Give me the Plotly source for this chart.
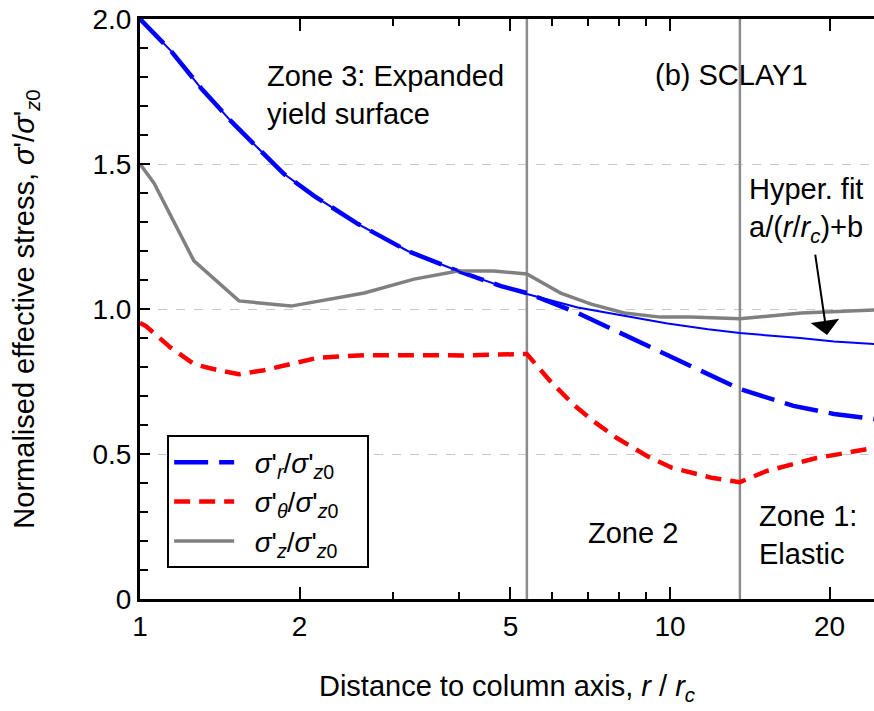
import math
import plotly.graph_objects as go

# ---------------- data ----------------
r_radial = [1.0, 1.144, 1.303, 1.485, 1.669, 1.868, 2.13, 2.58, 3.20, 3.98, 4.80, 5.37,
            6.70, 8.08, 9.74, 11.8, 13.55, 17.1, 20.4, 24.3]
sig_r = [2.0, 1.890, 1.762, 1.648, 1.555, 1.466, 1.390, 1.293, 1.200, 1.131, 1.079, 1.055,
         0.986, 0.917, 0.848, 0.776, 0.724, 0.666, 0.638, 0.621]

r_fit = [1.0, 1.144, 1.303, 1.485, 1.669, 1.868, 2.13, 2.58, 3.20, 3.98, 4.80, 5.37,
         6.70, 8.08, 9.9, 11.8, 13.55, 17.6, 20.4, 24.3]
sig_fit = [2.0, 1.890, 1.762, 1.648, 1.555, 1.466, 1.390, 1.293, 1.200, 1.131, 1.079, 1.052,
           1.005, 0.978, 0.950, 0.930, 0.917, 0.900, 0.888, 0.879]

r_theta = [1.0, 1.026, 1.144, 1.264, 1.403, 1.537, 1.714, 1.927, 2.17, 2.65, 3.29, 4.08, 5.37,
           5.94, 6.56, 7.16, 7.94, 9.05, 10.1, 12.06, 13.55, 15.2, 18.9, 24.3]
sig_theta = [0.952, 0.941, 0.866, 0.810, 0.789, 0.775, 0.789, 0.811, 0.832, 0.841, 0.840, 0.840, 0.845,
             0.752, 0.672, 0.614, 0.555, 0.493, 0.452, 0.417, 0.403, 0.441, 0.486, 0.521]

r_z = [1.0, 1.063, 1.264, 1.537, 1.927, 2.65, 3.29, 3.98, 4.65, 5.37, 6.22, 7.1, 8.2, 9.6,
       10.95, 13.55, 17.7, 24.3]
sig_z = [1.50, 1.434, 1.166, 1.028, 1.010, 1.055, 1.103, 1.131, 1.131, 1.121, 1.055, 1.017,
         0.986, 0.972, 0.972, 0.966, 0.986, 0.997]

zone_boundaries = [5.37, 13.55]

x_tickvals = [1, 2, 5, 10, 20]
x_minor_tickvals = [3, 4, 6, 7, 8, 9]
y_tickvals = [0, 0.5, 1.0, 1.5, 2.0]
y_ticktext = ["0", "0.5", "1.0", "1.5", "2.0"]

# ---------------- figure ----------------
FONT = "Liberation Sans, Arial, sans-serif"
FS = 28
FS_ANN = 29
PAD_L = "&nbsp;&nbsp;"
PAD_R = "&nbsp;&nbsp;&nbsp;"

fig = go.Figure()

for xb in zone_boundaries:
    fig.add_trace(go.Scatter(x=[xb, xb], y=[0, 2], mode="lines",
                             line=dict(color="#8c8c8c", width=2.5),
                             showlegend=False, hoverinfo="skip"))

fig.add_trace(go.Scatter(x=r_radial, y=sig_r, mode="lines",
                         name=PAD_L + "<i>σ</i>'<sub><i>r</i></sub>/<i>σ</i>'<sub><i>z</i>0</sub>" + PAD_R,
                         legendgroup="a",
                         line=dict(color="#0000ff", width=4.5, dash="34px,11px")))
fig.add_trace(go.Scatter(x=r_theta, y=sig_theta, mode="lines",
                         name=PAD_L + "<i>σ</i>'<sub><i>θ</i></sub>/<i>σ</i>'<sub><i>z</i>0</sub>" + PAD_R,
                         legendgroup="b",
                         line=dict(color="#ff0000", width=4.5, dash="16px,9px")))
fig.add_trace(go.Scatter(x=r_z, y=sig_z, mode="lines",
                         name=PAD_L + "<i>σ</i>'<sub><i>z</i></sub>/<i>σ</i>'<sub><i>z</i>0</sub>" + PAD_R,
                         legendgroup="c",
                         line=dict(color="#808080", width=3.5)))
fig.add_trace(go.Scatter(x=r_fit, y=sig_fit, mode="lines",
                         line=dict(color="#0000ff", width=2),
                         showlegend=False))

ann_font = dict(family=FONT, size=FS_ANN, color="black")
annotations = [
    dict(x=0.170, y=0.869, xref="paper", yref="paper", xanchor="left", yanchor="middle",
         align="left", text="Zone 3: Expanded<br>yield surface", showarrow=False, font=ann_font),
    dict(x=0.699, y=0.903, xref="paper", yref="paper", xanchor="left", yanchor="middle",
         text="(b) SCLAY1", showarrow=False, font=ann_font),
    dict(x=0.827, y=0.671, xref="paper", yref="paper", xanchor="left", yanchor="middle",
         align="left", text="Hyper. fit<br>a/(<i>r</i>/<i>r</i><sub><i>c</i></sub>)+b",
         showarrow=False, font=ann_font),
    dict(x=0.936, y=0.455, xref="paper", yref="paper", text="", showarrow=True,
         ax=-12, ay=-82, arrowhead=1, arrowsize=2.4, arrowwidth=2, arrowcolor="black"),
    dict(x=0.672, y=0.114, xref="paper", yref="paper", xanchor="center", yanchor="middle",
         text="Zone 2", showarrow=False, font=ann_font),
    dict(x=0.840, y=0.110, xref="paper", yref="paper", xanchor="left", yanchor="middle",
         align="left", text="Zone 1:<br>Elastic", showarrow=False, font=ann_font),
]

fig.update_layout(
    width=874, height=711,
    margin=dict(l=140, r=0, t=19, b=112, autoexpand=False),
    paper_bgcolor="white", plot_bgcolor="white",
    font=dict(family=FONT, size=FS, color="black"),
    showlegend=True,
    legend=dict(x=0.037, y=0.282, xanchor="left", yanchor="top",
                bgcolor="white", bordercolor="black", borderwidth=2,
                font=dict(family=FONT, size=FS), tracegroupgap=0,
                itemwidth=60),
    annotations=annotations,
)

fig.update_xaxes(
    type="log", range=[0, 1.385], automargin=False,
    tickmode="array", tickvals=x_tickvals, ticktext=[str(v) for v in x_tickvals],
    ticks="inside", ticklen=12, tickwidth=2, tickcolor="black",
    showline=True, linewidth=3, linecolor="black", mirror="allticks",
    showgrid=False, zeroline=False,
    minor=dict(tickmode="array", tickvals=x_minor_tickvals, ticks="inside",
               ticklen=7, tickwidth=2, tickcolor="black", showgrid=False),
    title=dict(text="Distance to column axis, <i>r</i> / <i>r</i><sub><i>c</i></sub>",
               font=dict(family=FONT, size=FS_ANN), standoff=36),
    tickfont=dict(family=FONT, size=FS),
)
fig.update_yaxes(
    range=[0, 2], automargin=False,
    tickmode="array", tickvals=y_tickvals, ticktext=y_ticktext,
    ticks="inside", ticklen=10, tickwidth=2, tickcolor="black",
    showline=True, linewidth=3, linecolor="black", mirror=True,
    showgrid=True, gridcolor="#c8c8c8", gridwidth=1, griddash="dash",
    zeroline=False,
    minor=dict(dtick=0.1, ticks="inside", ticklen=8, tickwidth=2, tickcolor="black",
               showgrid=False),
    title=dict(text="Normalised effective stress, <i>σ</i>'/<i>σ</i>'<sub><i>z</i>0</sub>",
               font=dict(family=FONT, size=FS_ANN), standoff=50),
    tickfont=dict(family=FONT, size=FS),
)

fig.write_html("out.html", config={"displayModeBar": False},
               post_script="document.body.style.margin='0px';document.body.style.overflow='hidden';")
